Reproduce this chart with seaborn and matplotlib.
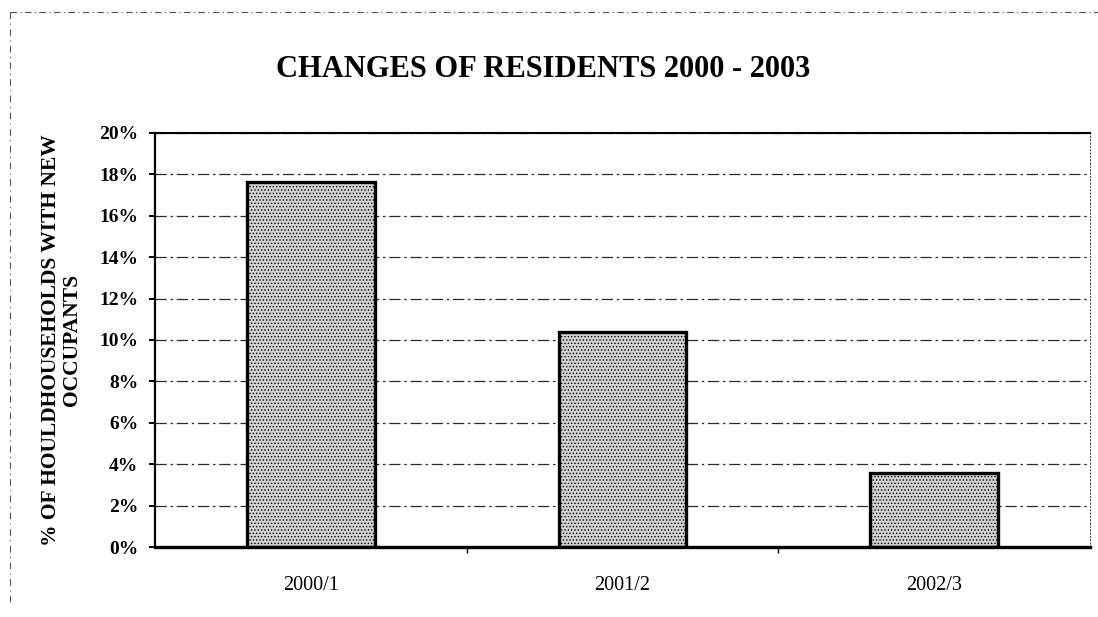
import matplotlib
matplotlib.use("Agg")
import matplotlib.pyplot as plt
import seaborn as sns
from matplotlib.lines import Line2D
from matplotlib.ticker import FuncFormatter

# values
periods = ['2000/1', '2001/2', '2002/3']
pct_new_occupants = [17.6, 10.4, 3.6]
ytick_values = [0, 2, 4, 6, 8, 10, 12, 14, 16, 18, 20]

sns.set_style("white")
plt.rcParams['font.family'] = ['Liberation Serif', 'DejaVu Serif']
plt.rcParams['text.color'] = 'black'
plt.rcParams['axes.labelcolor'] = 'black'
plt.rcParams['xtick.color'] = 'black'
plt.rcParams['ytick.color'] = 'black'
plt.rcParams['hatch.color'] = '#8c8c8c'
plt.rcParams['hatch.linewidth'] = 0.6

fig, ax = plt.subplots(figsize=(10.98, 6.17), dpi=100)
fig.subplots_adjust(left=0.141, right=0.993, top=0.785, bottom=0.113)

sns.barplot(x=periods, y=pct_new_occupants, width=0.41, color='#d2d2d2',
            edgecolor='black', linewidth=2.4, hatch='.....', ax=ax)

ax.set_xlim(-0.5, 2.5)
ax.set_ylim(0, 20)
ax.set_yticks(ytick_values)
ax.yaxis.set_major_formatter(FuncFormatter(lambda v, p: f"{v:.0f}%"))

# dash-dot gridlines like the old spreadsheet print
ax.set_axisbelow(True)
ax.yaxis.grid(True, linestyle=(0, (9, 3, 2, 3)), color='#2a2a2a', linewidth=0.9)
ax.xaxis.grid(False)

for side in ['left', 'bottom', 'top']:
    ax.spines[side].set_visible(True)
    ax.spines[side].set_color('black')
ax.spines['left'].set_linewidth(1.6)
ax.spines['bottom'].set_linewidth(2.4)
ax.spines['top'].set_linewidth(1.5)
ax.spines['right'].set_visible(True)
ax.spines['right'].set_color('#555555')
ax.spines['right'].set_linewidth(0.8)
ax.spines['right'].set_linestyle((0, (1, 2)))

ax.tick_params(axis='y', left=True, length=4, width=1.4, color='black', pad=8,
               labelsize=14, labelcolor='black')
for lbl in ax.get_yticklabels():
    lbl.set_fontweight('bold')
ax.tick_params(axis='x', bottom=False, pad=17, labelsize=14.5, labelcolor='black')
ax.set_xticks([0.5, 1.5], minor=True)
ax.tick_params(axis='x', which='minor', bottom=True, length=4, width=1, color='black')

ax.set_xlabel('')
ax.set_ylabel('% OF HOULDHOUSEHOLDS WITH NEW\nOCCUPANTS', fontsize=15.5,
              fontweight='bold', linespacing=1.05, color='black')
ax.yaxis.set_label_coords(-0.078, 0.5)

fig.text(0.495, 0.887, 'CHANGES OF RESIDENTS 2000 - 2003', ha='center', va='center',
         fontsize=22, fontweight='bold', color='black')

# dashed outer border of the chart object
fig.add_artist(Line2D([0.009, 1.0], [0.981, 0.981], transform=fig.transFigure,
                      color='#555555', linewidth=0.8, linestyle=(0, (6, 3, 1, 3))))
fig.add_artist(Line2D([0.009, 0.009], [0.981, 0.02], transform=fig.transFigure,
                      color='#555555', linewidth=0.8, linestyle=(0, (6, 4, 1, 4))))

plt.savefig('out.png', dpi=100)
